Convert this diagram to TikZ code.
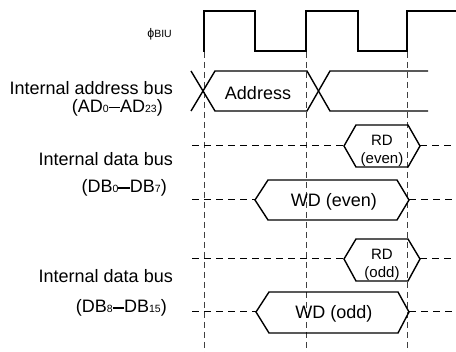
\documentclass[tikz,border=0pt]{standalone}
\usepackage{fontspec}
\setmainfont{Liberation Sans}
\newcommand\sbs[1]{{\fontsize{10.5}{10.5}\selectfont #1}}
\newcommand\bdash{\rule[4pt]{11.5pt}{1.7pt}}
\begin{document}
\begin{tikzpicture}[x=1pt,y=-1pt,
  sig/.style={line width=1.4pt, line join=miter},
  bus/.style={line width=1pt, dash pattern=on 7pt off 5pt},
  guide/.style={line width=0.6pt, black!75, dash pattern=on 6pt off 4pt},
  lbl/.style={anchor=base east, inner sep=0pt, font=\fontsize{18}{20}\selectfont},
  big/.style={anchor=base, inner sep=0pt, font=\fontsize{18}{20}\selectfont},
  small/.style={anchor=base, inner sep=0pt, font=\fontsize{15}{16}\selectfont}]
\useasboundingbox (0,0) rectangle (456,352);

% guides
\coordinate (g1t) at (204,52); \coordinate (g1b) at (204,352);
\coordinate (g2t) at (306,52); \coordinate (g2b) at (306,352);
\coordinate (g3t) at (407,52); \coordinate (g3b) at (407,352);
\draw[guide] (g1t) -- (g1b);
\draw[guide] (g2t) -- (g2b);
\draw[guide] (g3t) -- (g3b);

% clock
\node[anchor=base east, inner sep=0pt] (clk) at (172,38) {{\fontsize{12.5}{12}\selectfont ϕ}{\fontsize{10.5}{10}\selectfont BIU}};
\draw[sig] (204,52) -- (204,11) -- (255,11) -- (255,51) -- (306,51) -- (306,11) -- (358,11) -- (358,51) -- (407,51) -- (407,11) -- (456,11);

% address bus
\node[lbl] (la1) at (173,95) {Internal address bus};
\node[lbl] (la2) at (163,112.5) {(AD\sbs{0}\bdash AD\sbs{23})};
\draw[sig] (191,71) -- (215,111) -- (307,111) -- (330,71) -- (428,71);
\draw[sig] (191,111) -- (215,71) -- (307,71) -- (330,111) -- (428,111);
\node[big] (addr) at (258,100) {Address};

% data bus even
\node[lbl] (le1) at (173,166) {Internal data bus};
\node[lbl] (le2) at (167,193) {(DB\sbs{0}\bdash DB\sbs{7})};
\coordinate (re0) at (192,146); \coordinate (re3) at (456,146);
\coordinate (we0) at (192,200); \coordinate (we3) at (456,200);
\draw[sig] (344,146) coordinate (re1) -- (356,125) -- (408,125) -- (420,146) coordinate (re2) -- (408,167) -- (356,167) -- cycle;
\draw[bus] (re0) -- (re1);
\draw[bus] (re2) -- (re3);
\node[small] (rde1) at (382,146) {RD};
\node[small] (rde2) at (382,164) {(even)};
\draw[sig] (255,200) coordinate (we1) -- (268,180) -- (397,180) -- (409,200) coordinate (we2) -- (397,220) -- (268,220) -- cycle;
\draw[bus] (we0) -- (we1);
\draw[bus] (we2) -- (we3);
\node[big] (wde) at (334,206.5) {WD (even)};

% data bus odd
\node[lbl] (lo1) at (173,283) {Internal data bus};
\node[lbl] (lo2) at (167,313) {(DB\sbs{8}\bdash DB\sbs{15})};
\coordinate (ro0) at (192,259); \coordinate (ro3) at (456,259);
\coordinate (wo0) at (192,312); \coordinate (wo3) at (456,312);
\draw[sig] (344,259) coordinate (ro1) -- (356,239) -- (408,239) -- (420,259) coordinate (ro2) -- (408,281) -- (356,281) -- cycle;
\draw[bus] (ro0) -- (ro1);
\draw[bus] (ro2) -- (ro3);
\node[small] (rdo1) at (382,260) {RD};
\node[small] (rdo2) at (382,278) {(odd)};
\draw[sig] (256,312) coordinate (wo1) -- (269,292) -- (398,292) -- (409,312) coordinate (wo2) -- (398,333) -- (269,333) -- cycle;
\draw[bus] (wo0) -- (wo1);
\draw[bus] (wo2) -- (wo3);
\node[big] (wdo) at (334,318.5) {WD (odd)};
\end{tikzpicture}
\end{document}
